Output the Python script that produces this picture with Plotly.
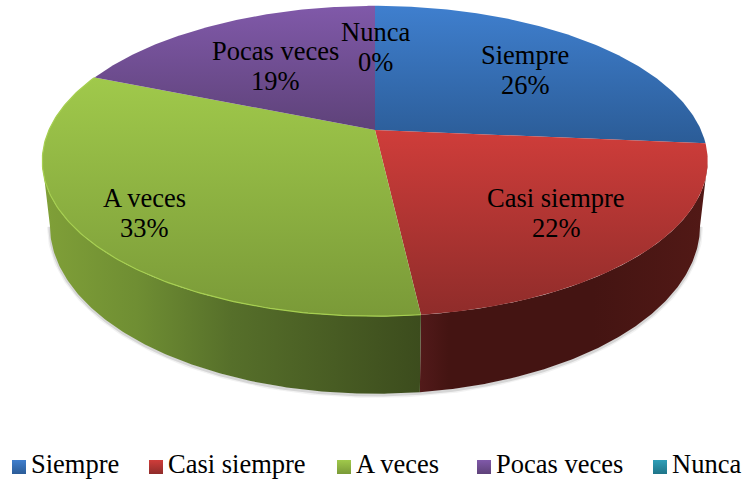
import numpy as np
import plotly.graph_objects as go

# Values (labels show them rounded)
categories = ["Siempre", "Casi siempre", "A veces", "Pocas veces", "Nunca"]
percent = [26.4, 21.8, 33.0, 18.8, 0]
top_colors = [("#3f7fce", "#2b5c97"), ("#cf3d3a", "#8f2c2a"), ("#a0c94b", "#7a9a38"), ("#8059a9", "#5e4279"), ("#2f9fb8", "#1f7488")]
wall_colors = {
    1: [[0, "#521a1a"], [0.1, "#441412"], [0.6, "#441412"], [1, "#521916"]],
    2: [[0, "#80a038"], [0.25, "#6f8e33"], [0.5, "#566f2a"], [1, "#3c4c1d"]],
}
label_pos = [(525, 70), (556, 213), (144, 213), (275, 66), (375, 47)]
legend_x = [19, 156, 344, 484, 660]

# Tilted pie projection, in pixels
cx, cy, a, b, k, depth, bottom_scale = 375, 130, 326, 149, 0.2, 62, 0.977
font = "Liberation Serif"


def rim(t, h=0, s=1):
    u, f = np.sin(t), -np.cos(t)
    w = 1 - k * f
    return cx + s * a * u / w, cy + (b * f + h) / w


edges = np.cumsum([0] + percent) / 100 * 2 * np.pi
# angles where the outline turns, the wall is hidden outside them
turn = np.arccos(-k)

fig = go.Figure()

# soft shadow below the bottom rim
t = np.linspace(turn, 2 * np.pi - turn, 300)
x1, y1 = rim(t, depth + 1, bottom_scale)
for width, alpha in [(6, 0.07), (3, 0.16)]:
    fig.add_trace(go.Scatter(x=x1, y=y1, mode="lines", hoverinfo="skip", line=dict(color=f"rgba(70,70,70,{alpha})", width=width)))

# side walls, the top face covers the upper edge
for i, cols in wall_colors.items():
    t = np.linspace(max(edges[i], turn), min(edges[i + 1], 2 * np.pi - turn), 150)
    x0, y0 = rim(t)
    x1, y1 = rim(t, depth, bottom_scale)
    xs, ys = np.r_[x0, x1[::-1]], np.r_[y0, y1[::-1]]
    fig.add_trace(go.Scatter(
        x=xs, y=ys, mode="lines", line=dict(width=0), fill="toself", hoverinfo="skip",
        fillgradient=dict(type="horizontal", colorscale=cols, start=xs.min(), stop=xs.max()),
    ))

# top face of each slice
for i, v in enumerate(percent):
    if v == 0:
        continue
    t = np.linspace(edges[i], edges[i + 1], 150)
    xr, yr = rim(t)
    xs, ys = np.r_[cx, xr, cx], np.r_[cy, yr, cy]
    fig.add_trace(go.Scatter(
        x=xs, y=ys, mode="lines", line=dict(width=0), fill="toself", hoverinfo="skip",
        fillgradient=dict(
            type="vertical", start=ys.min(), stop=ys.max(),
            colorscale=[[0, top_colors[i][0]], [1, top_colors[i][1]]],
        ),
    ))
    # bright bevel only shows on the green slice
    if i == 2:
        fig.add_trace(go.Scatter(x=xr, y=yr, mode="lines", hoverinfo="skip", line=dict(color="#a6cf50", width=1.2)))

# slice labels, name and share on two lines
for name, v, (lx, ly) in zip(categories, percent, label_pos):
    fig.add_annotation(x=lx, y=ly - 15, text=name, showarrow=False, font=dict(family=font, size=26.5, color="black"))
    fig.add_annotation(x=lx, y=ly + 15, text=f"{round(v)}%", showarrow=False, font=dict(family=font, size=26.5, color="black"))

# legend row
for i, name in enumerate(categories):
    fig.add_trace(go.Scatter(
        x=[legend_x[i]], y=[467], mode="markers", hoverinfo="skip",
        marker=dict(symbol="square", size=14, color=top_colors[i][0], line=dict(width=0),
                    gradient=dict(type="vertical", color=top_colors[i][1])),
    ))
    fig.add_annotation(x=legend_x[i] + 10, y=464, text=name, showarrow=False, xanchor="left", font=dict(family=font, size=26.5, color="black"))

fig.update_layout(
    width=744, height=480, margin=dict(l=0, r=0, t=0, b=0), showlegend=False,
    paper_bgcolor="white", plot_bgcolor="white",
    xaxis=dict(range=[0, 744], visible=False),
    yaxis=dict(range=[480, 0], visible=False),
)

fig.write_html("out.html", config={"displayModeBar": False}, post_script="document.body.style.margin='0';")
